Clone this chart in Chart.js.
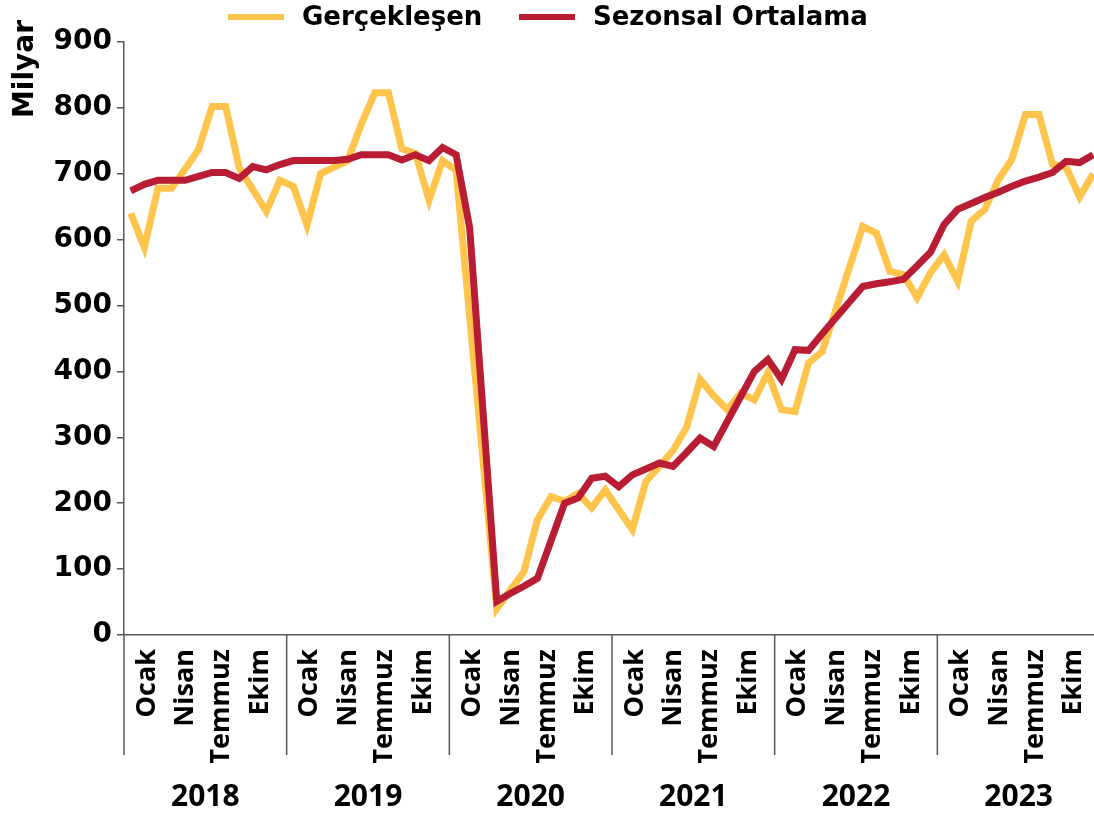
<!DOCTYPE html>
<html>
<head>
<meta charset="utf-8">
<script src="https://cdn.jsdelivr.net/npm/chart.js@4.4.1/dist/chart.umd.min.js"></script>
<style>
html,body{margin:0;padding:0;background:#fff;overflow:hidden;}
#wrap{width:1100px;height:816px;}
</style>
</head>
<body>
<div id="wrap"><canvas id="c" width="1100" height="816"></canvas></div>
<script>
// ---- data ----
const YEARS = ['2018', '2019', '2020', '2021', '2022', '2023'];
const MONTH_NUMS = ['01','02','03','04','05','06','07','08','09','10','11','12'];
const CATEGORIES = YEARS.flatMap(y => MONTH_NUMS.map(m => y + '-' + m));
const MONTH_TICKS = ['Ocak', 'Nisan', 'Temmuz', 'Ekim'];

const GERCEKLESEN = [
  640, 588, 678, 678, 707, 737, 802, 802, 709, 676, 643, 690,
  681, 622, 700, 710, 720, 775, 823, 823, 738, 731, 660, 720,
  705, 483, 262, 40, 68, 96, 175, 210, 203, 215, 193, 220,
  190, 160, 233, 256, 280, 315, 388, 363, 342, 367, 357, 398,
  342, 339, 413, 430, 493, 557, 620, 610, 552, 547, 512, 550,
  577, 537, 628, 646, 691, 722, 790, 790, 714, 710, 665, 700
];
const SEZONSAL = [
  674, 684, 690, 690, 690, 696, 702, 702, 693, 711, 706, 714,
  720, 720, 720, 720, 722, 729, 729, 729, 721, 729, 720, 740,
  729, 618, 335, 51, 63, 74, 86, 143, 200, 208, 238, 241,
  225, 243, 252, 261, 256, 277, 299, 286, 324, 362, 400, 418,
  388, 433, 432, 457, 481, 505, 529, 533, 536, 540, 560, 581,
  623, 646, 655, 664, 672, 681, 689, 695, 702, 719, 717, 729
];

// ---- style / layout ----
const AXIS_COLOR = '#595959';
const YELLOW = '#FFC44C';
const RED = '#B81D33';
const MONTH_LABEL_POS = [1.7, 4.55, 7.2, 10.05];
const LEGEND_ITEMS_X = [228, 519];

const noPad = s => { s.paddingLeft = 0; s.paddingRight = 0; };

const decor = {
  id: 'decor',
  afterDraw(chart) {
    const {ctx, chartArea, scales} = chart;
    const x = scales.x;
    const band = x.getPixelForValue(1) - x.getPixelForValue(0);
    ctx.save();
    // year separators
    ctx.strokeStyle = AXIS_COLOR;
    ctx.lineWidth = 1.5;
    for (let i = 0; i < YEARS.length; i++) {
      const px = x.getPixelForValue(i * 12) - band / 2;
      ctx.beginPath();
      ctx.moveTo(px, chartArea.bottom);
      ctx.lineTo(px, 755);
      ctx.stroke();
    }
    // y axis title
    ctx.save();
    ctx.fillStyle = '#000';
    ctx.font = 'bold 28px "DejaVu Sans"';
    ctx.translate(26, 20);
    ctx.rotate(-Math.PI / 2);
    ctx.textAlign = 'right';
    ctx.textBaseline = 'middle';
    ctx.fillText('Milyar', 0, 0);
    ctx.restore();
    // legend
    ctx.font = 'bold 26px "DejaVu Sans"';
    ctx.textAlign = 'left';
    ctx.textBaseline = 'middle';
    const ly = 17;
    chart.data.datasets.forEach((ds, i) => {
      const lx = LEGEND_ITEMS_X[i];
      ctx.strokeStyle = ds.borderColor;
      ctx.lineWidth = 6;
      ctx.beginPath();
      ctx.moveTo(lx, ly);
      ctx.lineTo(lx + 56, ly);
      ctx.stroke();
      ctx.fillStyle = '#000';
      ctx.fillText(ds.label, lx + 74, ly + 1);
    });
    ctx.restore();
  }
};

new Chart(document.getElementById('c'), {
  type: 'line',
  data: {
    labels: CATEGORIES,
    datasets: [
      {label: 'Gerçekleşen', data: GERCEKLESEN, borderColor: YELLOW, backgroundColor: YELLOW,
       borderWidth: 7, pointRadius: 0, tension: 0, borderJoinStyle: 'miter', order: 2,
       xAxisID: 'x', yAxisID: 'y'},
      {label: 'Sezonsal Ortalama', data: SEZONSAL, borderColor: RED, backgroundColor: RED,
       borderWidth: 7, pointRadius: 0, tension: 0, borderJoinStyle: 'miter', order: 1,
       xAxisID: 'x', yAxisID: 'y'}
    ]
  },
  options: {
    responsive: false,
    animation: false,
    devicePixelRatio: 1,
    layout: {padding: {top: 42, left: 0, right: 0, bottom: 0}},
    plugins: {legend: {display: false}, tooltip: {enabled: false}},
    scales: {
      x: {
        type: 'category', offset: true, weight: 0,
        grid: {display: false},
        ticks: {display: false},
        border: {display: true, color: AXIS_COLOR, width: 1.5},
        afterFit: s => { s.height = 0; noPad(s); }
      },
      xm: {
        type: 'linear', position: 'bottom', weight: 1, min: 0, max: 72,
        grid: {display: false, drawTicks: false},
        border: {display: false},
        afterBuildTicks: s => {
          s.ticks = YEARS.flatMap((y, yi) => MONTH_LABEL_POS.map(p => ({value: yi * 12 + p})));
        },
        afterFit: s => { s.height = 128; noPad(s); },
        ticks: {
          autoSkip: false, minRotation: 90, maxRotation: 90, padding: 14, color: '#000',
          font: {family: '"Open Sans"', size: 27, weight: 'bold'},
          callback: (v, i) => MONTH_TICKS[i % MONTH_TICKS.length]
        }
      },
      xy: {
        type: 'category', position: 'bottom', weight: 2, labels: YEARS, offset: true,
        grid: {display: false, drawTicks: false},
        border: {display: false},
        afterFit: s => { s.height = 53; noPad(s); },
        ticks: {
          autoSkip: false, maxRotation: 0, padding: 16, color: '#000',
          font: {family: '"Open Sans"', size: 30, weight: 'bold'}
        }
      },
      y: {
        type: 'linear', min: 0, max: 900,
        afterFit: s => { s.width = 124; },
        grid: {display: true, drawOnChartArea: false, drawTicks: true, tickLength: 7,
               color: AXIS_COLOR, lineWidth: 1.5},
        border: {display: true, color: AXIS_COLOR, width: 1.5},
        ticks: {stepSize: 100, padding: 5, color: '#000',
                font: {family: '"DejaVu Sans"', size: 28, weight: 'bold'}}
      }
    }
  },
  plugins: [decor]
});
</script>
</body>
</html>
